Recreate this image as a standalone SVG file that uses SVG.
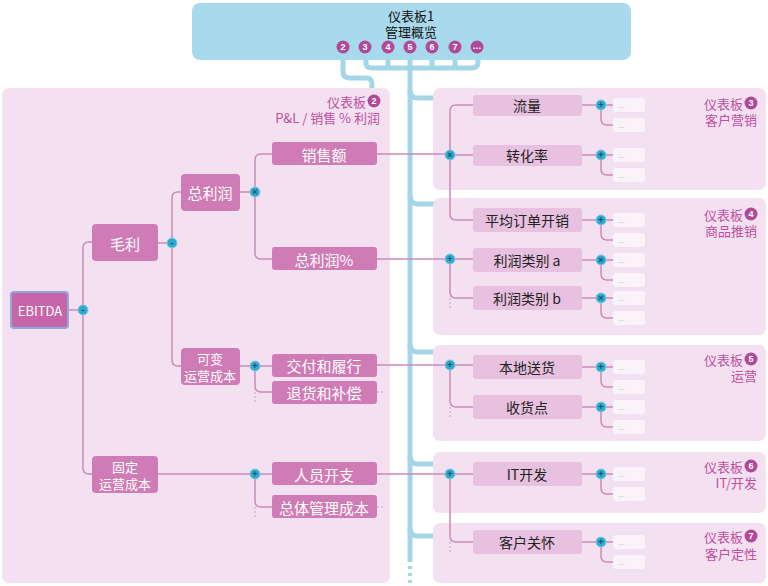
<svg xmlns="http://www.w3.org/2000/svg" width="768" height="586" viewBox="0 0 768 586">
<style>
text{font-family:"Noto Sans CJK SC","Liberation Sans",sans-serif}
.panel{fill:#f3e1f1}
.ln{fill:#cf7cb6}
.lt{fill:#fff;font-size:15px;text-anchor:middle;dominant-baseline:central}
.lt2{fill:#fff;font-size:13px;text-anchor:middle;dominant-baseline:central}
.rn{fill:#e8c0e0}
.rt{fill:#222;font-size:14px;text-anchor:middle;dominant-baseline:central}
.op{fill:#2fa9cc;stroke:#7fcbe0;stroke-width:1}
.opt{fill:#17506a;font-size:9px;font-weight:bold;text-anchor:middle;dominant-baseline:central;font-family:"Liberation Sans",sans-serif}
.con{fill:none;stroke:#c98bb8;stroke-width:1.5}
.dash{fill:none;stroke:#c9a0c0;stroke-width:1;stroke-dasharray:2 2}
.blue{fill:none;stroke:#a5d6e8;stroke-width:5}
.dot{fill:#fbf3fa}
.dt{fill:#999;font-size:7px;dominant-baseline:central;font-family:"Liberation Sans",sans-serif}
.pl{fill:#c04fa0;font-size:13px;text-anchor:end;dominant-baseline:central}
.nc{fill:#b04a98}
.nt{fill:#fff;font-size:9px;font-weight:bold;text-anchor:middle;dominant-baseline:central;font-family:"Liberation Sans",sans-serif}
</style>
<rect width="768" height="586" fill="#fff"/>
<g id="connectors-top">
<path class="blue" d="M343 55 V72 Q343 78 350 78 H366 Q372 78 372 84 V90"/>
<path class="blue" d="M366 55 V63 Q366 68 372 68 H472 Q478 68 478 62 V55"/>
<path class="blue" d="M388 55 V68 M410 55 V68 M432 55 V68 M455 55 V68"/>
<path class="blue" d="M410 68 V562"/>
<path d="M410 566 V586" stroke="#a5d6e8" stroke-width="4" stroke-dasharray="3 4"/>
<path class="blue" d="M410 90 Q410 98 418 98 H436 M410 196 Q410 204 418 204 H436 M410 344 Q410 352 418 352 H436 M410 456 Q410 464 418 464 H436 M410 528 Q410 536 418 536 H436"/>
</g>
<g id="top">
<rect x="192" y="3" width="439" height="57" rx="8" fill="#a9d9ec"/>
<text x="411" y="15" font-size="13" text-anchor="middle" dominant-baseline="central" fill="#111">仪表板1</text>
<text x="411" y="31" font-size="13" text-anchor="middle" dominant-baseline="central" fill="#111">管理概览</text>
<g>
<circle class="nc" cx="343" cy="47" r="6.5"/><text class="nt" x="343" y="47">2</text>
<circle class="nc" cx="365" cy="47" r="6.5"/><text class="nt" x="365" y="47">3</text>
<circle class="nc" cx="388" cy="47" r="6.5"/><text class="nt" x="388" y="47">4</text>
<circle class="nc" cx="410" cy="47" r="6.5"/><text class="nt" x="410" y="47">5</text>
<circle class="nc" cx="432" cy="47" r="6.5"/><text class="nt" x="432" y="47">6</text>
<circle class="nc" cx="455" cy="47" r="6.5"/><text class="nt" x="455" y="47">7</text>
<circle class="nc" cx="477" cy="47" r="6.5"/><text class="nt" x="477" y="46">…</text>
</g>
</g>
<g id="panels">
<rect class="panel" x="2" y="88" width="388" height="495" rx="7"/>
<rect class="panel" x="433" y="88" width="333" height="102" rx="7"/>
<rect class="panel" x="433" y="198" width="333" height="137" rx="7"/>
<rect class="panel" x="433" y="345" width="333" height="96" rx="7"/>
<rect class="panel" x="433" y="452" width="333" height="61" rx="7"/>
<rect class="panel" x="433" y="523" width="333" height="60" rx="7"/>
</g>
<g id="panel-labels">
<text class="pl" x="366" y="101">仪表板</text><circle class="nc" cx="374" cy="101" r="6.5"/><text class="nt" x="374" y="101">2</text>
<text class="pl" x="380" y="117">P&amp;L / 销售 % 利润</text>
<text class="pl" x="743" y="103">仪表板</text><circle class="nc" cx="751" cy="103" r="6.5"/><text class="nt" x="751" y="103">3</text>
<text class="pl" x="757" y="119">客户营销</text>
<text class="pl" x="743" y="214">仪表板</text><circle class="nc" cx="751" cy="214" r="6.5"/><text class="nt" x="751" y="214">4</text>
<text class="pl" x="757" y="230">商品推销</text>
<text class="pl" x="743" y="359">仪表板</text><circle class="nc" cx="751" cy="359" r="6.5"/><text class="nt" x="751" y="359">5</text>
<text class="pl" x="757" y="375">运营</text>
<text class="pl" x="743" y="466">仪表板</text><circle class="nc" cx="751" cy="466" r="6.5"/><text class="nt" x="751" y="466">6</text>
<text class="pl" x="757" y="482">IT/开发</text>
<text class="pl" x="743" y="536">仪表板</text><circle class="nc" cx="751" cy="536" r="6.5"/><text class="nt" x="751" y="536">7</text>
<text class="pl" x="757" y="553">客户定性</text>
</g>
<g id="connectors">
<path class="con" d="M68 310 H83 M83 310 V248 Q83 242 89 242 H92 M83 310 V468 Q83 474 89 474 H92"/>
<path class="con" d="M158 243 H172 M172 243 V198 Q172 192 178 192 H181 M172 243 V360 Q172 366 178 366 H181"/>
<path class="con" d="M240 192 H255 M255 192 V160 Q255 154 261 154 H272 M255 192 V253 Q255 259 261 259 H272"/>
<path class="con" d="M240 366 H272 M255 366 V386 Q255 392 261 392 H272"/>
<path class="con" d="M158 474 H272 M255 474 V501 Q255 507 261 507 H272"/>
<path class="dash" d="M255 392 V402 M255 507 V518 M377 392 H385 M377 507 H385"/>
<path class="con" d="M377 154 H450 M377 259 H450 M377 365 H473 M377 474 H473"/>
<path class="con" d="M450 155 H473 M450 155 V111 Q450 105 456 105 H473 M450 155 V214 Q450 220 456 220 H473"/>
<path class="con" d="M450 259 H473 M450 259 V292 Q450 298 456 298 H473"/>
<path class="con" d="M450 365 V401 Q450 407 456 407 H473"/>
<path class="con" d="M450 474 V536 Q450 542 456 542 H473"/>
<path class="dash" d="M450 298 V310 M450 407 V418 M450 542 V552"/>
<g id="sub-connectors">
<path class="con" d="M582 105 H613 M601 105 V119 Q601 125 607 125 H613"/>
<path class="con" d="M582 155 H613 M601 155 V169 Q601 175 607 175 H613"/>
<path class="con" d="M582 220 H613 M601 220 V234 Q601 240 607 240 H613"/>
<path class="con" d="M582 260 H613 M601 260 V274 Q601 280 607 280 H613"/>
<path class="con" d="M582 298 H613 M601 298 V312 Q601 318 607 318 H613"/>
<path class="con" d="M582 367 H613 M601 367 V381 Q601 387 607 387 H613"/>
<path class="con" d="M582 407 H613 M601 407 V421 Q601 427 607 427 H613"/>
<path class="con" d="M582 474 H613 M601 474 V488 Q601 494 607 494 H613"/>
<path class="con" d="M582 542 H613 M601 542 V556 Q601 562 607 562 H613"/>
</g>
</g>
<g id="left-nodes">
<g id="ebitda"><rect x="11" y="292" width="57" height="36" rx="3" fill="#c765aa" stroke="#8fa8d8" stroke-width="2"/><text class="lt2" x="40" y="310">EBITDA</text></g>
<g id="maoli"><rect class="ln" x="92" y="224" width="66" height="37" rx="4"/><text class="lt" x="125" y="243">毛利</text></g>
<g id="zonglirun"><rect class="ln" x="181" y="174" width="59" height="37" rx="4"/><text class="lt" x="210" y="192">总利润</text></g>
<g id="kebian"><rect class="ln" x="181" y="348" width="59" height="37" rx="4"/><text class="lt2" x="210" y="358">可变</text><text class="lt2" x="210" y="375">运营成本</text></g>
<g id="guding"><rect class="ln" x="92" y="456" width="66" height="37" rx="4"/><text class="lt2" x="125" y="466">固定</text><text class="lt2" x="125" y="483">运营成本</text></g>
<g id="xiaoshoue"><rect class="ln" x="272" y="142" width="105" height="23" rx="3"/><text class="lt" x="324" y="154">销售额</text></g>
<g id="zlrp"><rect class="ln" x="272" y="247" width="105" height="23" rx="3"/><text class="lt" x="324" y="259">总利润%</text></g>
<g id="jiaofu"><rect class="ln" x="272" y="354" width="105" height="23" rx="3"/><text class="lt" x="324" y="365">交付和履行</text></g>
<g id="tuihuo"><rect class="ln" x="272" y="381" width="105" height="23" rx="3"/><text class="lt" x="324" y="392">退货和补偿</text></g>
<g id="renyuan"><rect class="ln" x="272" y="462" width="105" height="23" rx="3"/><text class="lt" x="324" y="474">人员开支</text></g>
<g id="zongti"><rect class="ln" x="272" y="495" width="105" height="23" rx="3"/><text class="lt" x="324" y="507">总体管理成本</text></g>
</g>
<g id="right-nodes">
<g id="liuliang"><rect class="rn" x="473" y="95" width="109" height="21" rx="3"/><text class="rt" x="527" y="105">流量</text></g>
<g id="zhuanhua"><rect class="rn" x="473" y="145" width="109" height="21" rx="3"/><text class="rt" x="527" y="155">转化率</text></g>
<g id="pingjun"><rect class="rn" x="473" y="208" width="109" height="24" rx="3"/><text class="rt" x="527" y="220">平均订单开销</text></g>
<g id="lirun-a"><rect class="rn" x="473" y="248" width="109" height="24" rx="3"/><text class="rt" x="527" y="260">利润类别 a</text></g>
<g id="lirun-b"><rect class="rn" x="473" y="286" width="109" height="24" rx="3"/><text class="rt" x="527" y="298">利润类别 b</text></g>
<g id="bendi"><rect class="rn" x="473" y="355" width="109" height="24" rx="3"/><text class="rt" x="527" y="367">本地送货</text></g>
<g id="shouhuo"><rect class="rn" x="473" y="395" width="109" height="24" rx="3"/><text class="rt" x="527" y="407">收货点</text></g>
<g id="it"><rect class="rn" x="473" y="462" width="109" height="24" rx="3"/><text class="rt" x="527" y="474">IT开发</text></g>
<g id="kehu"><rect class="rn" x="473" y="530" width="109" height="24" rx="3"/><text class="rt" x="527" y="542">客户关怀</text></g>
</g>
<g id="placeholders">
<g><rect class="dot" x="613" y="98" width="32" height="14" rx="3"/><text class="dt" x="618" y="105">…</text><rect class="dot" x="613" y="118" width="32" height="14" rx="3"/><text class="dt" x="618" y="125">…</text></g>
<g><rect class="dot" x="613" y="148" width="32" height="14" rx="3"/><text class="dt" x="618" y="155">…</text><rect class="dot" x="613" y="168" width="32" height="14" rx="3"/><text class="dt" x="618" y="175">…</text></g>
<g><rect class="dot" x="613" y="213" width="32" height="14" rx="3"/><text class="dt" x="618" y="220">…</text><rect class="dot" x="613" y="233" width="32" height="14" rx="3"/><text class="dt" x="618" y="240">…</text></g>
<g><rect class="dot" x="613" y="253" width="32" height="14" rx="3"/><text class="dt" x="618" y="260">…</text><rect class="dot" x="613" y="273" width="32" height="14" rx="3"/><text class="dt" x="618" y="280">…</text></g>
<g><rect class="dot" x="613" y="291" width="32" height="14" rx="3"/><text class="dt" x="618" y="298">…</text><rect class="dot" x="613" y="311" width="32" height="14" rx="3"/><text class="dt" x="618" y="318">…</text></g>
<g><rect class="dot" x="613" y="360" width="32" height="14" rx="3"/><text class="dt" x="618" y="367">…</text><rect class="dot" x="613" y="380" width="32" height="14" rx="3"/><text class="dt" x="618" y="387">…</text></g>
<g><rect class="dot" x="613" y="400" width="32" height="14" rx="3"/><text class="dt" x="618" y="407">…</text><rect class="dot" x="613" y="420" width="32" height="14" rx="3"/><text class="dt" x="618" y="427">…</text></g>
<g><rect class="dot" x="613" y="467" width="32" height="14" rx="3"/><text class="dt" x="618" y="474">…</text><rect class="dot" x="613" y="487" width="32" height="14" rx="3"/><text class="dt" x="618" y="494">…</text></g>
<g><rect class="dot" x="613" y="535" width="32" height="14" rx="3"/><text class="dt" x="618" y="542">…</text><rect class="dot" x="613" y="555" width="32" height="14" rx="3"/><text class="dt" x="618" y="562">…</text></g>
</g>
<g id="operators">
<circle class="op" cx="83" cy="310" r="5"/><text class="opt" x="83" y="310">-</text>
<circle class="op" cx="172" cy="243" r="5"/><text class="opt" x="172" y="243">-</text>
<circle class="op" cx="255" cy="192" r="5"/><text class="opt" x="255" y="192">×</text>
<circle class="op" cx="255" cy="366" r="5"/><text class="opt" x="255" y="366">+</text>
<circle class="op" cx="255" cy="474" r="5"/><text class="opt" x="255" y="474">+</text>
<circle class="op" cx="450" cy="155" r="5"/><text class="opt" x="450" y="155">×</text>
<circle class="op" cx="450" cy="259" r="5"/><text class="opt" x="450" y="259">+</text>
<circle class="op" cx="450" cy="365" r="5"/><text class="opt" x="450" y="365">+</text>
<circle class="op" cx="450" cy="474" r="5"/><text class="opt" x="450" y="474">+</text>
<circle class="op" cx="601" cy="105" r="5"/><text class="opt" x="601" y="105">+</text>
<circle class="op" cx="601" cy="155" r="5"/><text class="opt" x="601" y="155">+</text>
<circle class="op" cx="601" cy="220" r="5"/><text class="opt" x="601" y="220">+</text>
<circle class="op" cx="601" cy="260" r="5"/><text class="opt" x="601" y="260">×</text>
<circle class="op" cx="601" cy="298" r="5"/><text class="opt" x="601" y="298">×</text>
<circle class="op" cx="601" cy="367" r="5"/><text class="opt" x="601" y="367">+</text>
<circle class="op" cx="601" cy="407" r="5"/><text class="opt" x="601" y="407">+</text>
<circle class="op" cx="601" cy="474" r="5"/><text class="opt" x="601" y="474">+</text>
<circle class="op" cx="601" cy="542" r="5"/><text class="opt" x="601" y="542">+</text>
</g>
</svg>
